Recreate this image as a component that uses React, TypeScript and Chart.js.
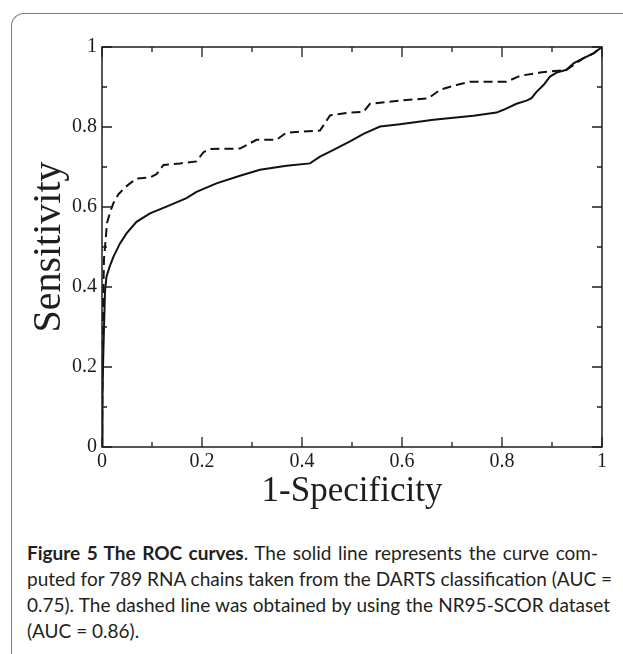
import React, { useEffect, useRef } from "react";
import { Chart, registerables } from "chart.js";

Chart.register(...registerables);

// 1-Specificity / Sensitivity for the solid curve (DARTS, AUC = 0.75)
const solidFpr = [0, 0.001, 0.002, 0.004, 0.006, 0.009, 0.015, 0.023, 0.036, 0.049, 0.069, 0.096, 0.129, 0.169, 0.189, 0.229, 0.276, 0.316, 0.369, 0.416, 0.436, 0.463, 0.496, 0.523, 0.556, 0.596, 0.663, 0.743, 0.789, 0.803, 0.829, 0.849, 0.859, 0.869, 0.883, 0.896, 0.909, 0.929, 0.943, 0.963, 0.983, 1];
const solidTpr = [0, 0.12, 0.2, 0.3, 0.39, 0.426, 0.45, 0.476, 0.509, 0.534, 0.563, 0.584, 0.601, 0.622, 0.638, 0.659, 0.678, 0.693, 0.703, 0.709, 0.726, 0.743, 0.764, 0.783, 0.801, 0.807, 0.818, 0.828, 0.836, 0.843, 0.858, 0.866, 0.872, 0.888, 0.905, 0.926, 0.936, 0.943, 0.959, 0.972, 0.984, 1];

// 1-Specificity / Sensitivity for the dashed curve (NR95-SCOR, AUC = 0.86)
const dashedFpr = [0, 0.001, 0.002, 0.004, 0.01, 0.017, 0.023, 0.033, 0.046, 0.056, 0.069, 0.096, 0.109, 0.123, 0.156, 0.189, 0.203, 0.216, 0.276, 0.309, 0.349, 0.369, 0.436, 0.456, 0.496, 0.523, 0.536, 0.596, 0.653, 0.676, 0.709, 0.736, 0.809, 0.836, 0.876, 0.929, 0.963, 0.983, 1];
const dashedTpr = [0, 0.2, 0.35, 0.47, 0.56, 0.59, 0.61, 0.632, 0.649, 0.659, 0.671, 0.674, 0.682, 0.705, 0.709, 0.714, 0.737, 0.745, 0.746, 0.768, 0.768, 0.786, 0.791, 0.829, 0.836, 0.838, 0.858, 0.866, 0.872, 0.893, 0.905, 0.913, 0.913, 0.928, 0.936, 0.943, 0.972, 0.984, 1];

const tickValues = [0, 0.1, 0.2, 0.3, 0.4, 0.5, 0.6, 0.7, 0.8, 0.9, 1];
const xTitle = "1-Specificity";
const yTitle = "Sensitivity";

const captionLines = [
  { bold: "Figure 5 The ROC curves", text: ". The solid line represents the curve com-", width: 571 },
  { bold: "", text: "puted for 789 RNA chains taken from the DARTS classification (AUC =", width: 585 },
  { bold: "", text: "0.75). The dashed line was obtained by using the NR95-SCOR dataset", width: 583 },
  { bold: "", text: "(AUC = 0.86).", width: 0 },
];

const AXIS_COLOR = "#1e1e1e";

const boxTicksPlugin = {
  id: "boxTicks",
  afterDraw(chart: any) {
    const { ctx, chartArea, scales } = chart;
    const { left, right, top, bottom } = chartArea;
    ctx.save();
    ctx.strokeStyle = AXIS_COLOR;
    ctx.lineWidth = 1.5;
    ctx.strokeRect(left, top, right - left, bottom - top);
    ctx.lineWidth = 1.3;
    tickValues.forEach((v, i) => {
      const len = i % 2 === 0 ? 10 : 5;
      const px = scales.x.getPixelForValue(v);
      const py = scales.y.getPixelForValue(v);
      ctx.beginPath();
      ctx.moveTo(px, bottom);
      ctx.lineTo(px, bottom - len);
      ctx.moveTo(px, top);
      ctx.lineTo(px, top + len);
      ctx.moveTo(left, py);
      ctx.lineTo(left + len, py);
      ctx.moveTo(right, py);
      ctx.lineTo(right - len, py);
      ctx.stroke();
    });
    ctx.restore();
  },
};

const fmt = (v: number) => Number(Number(v).toFixed(1)).toString();

export default function App() {
  const ref = useRef<HTMLCanvasElement | null>(null);

  useEffect(() => {
    document.body.style.margin = "0";
    if (!ref.current) return;
    const chart = new Chart(ref.current, {
      type: "scatter",
      data: {
        datasets: [
          {
            label: "DARTS",
            data: solidFpr.map((x, i) => ({ x, y: solidTpr[i] })),
            showLine: true,
            borderColor: "#111",
            borderWidth: 2,
            pointRadius: 0,
            tension: 0,
          },
          {
            label: "NR95-SCOR",
            data: dashedFpr.map((x, i) => ({ x, y: dashedTpr[i] })),
            showLine: true,
            borderColor: "#111",
            borderWidth: 2,
            borderDash: [9, 5],
            pointRadius: 0,
            tension: 0,
          },
        ],
      },
      options: {
        animation: false,
        responsive: false,
        devicePixelRatio: 1,
        layout: { padding: { top: 47, right: 21, left: 0, bottom: 0 } },
        plugins: { legend: { display: false }, tooltip: { enabled: false } },
        scales: {
          x: {
            type: "linear",
            min: 0,
            max: 1,
            grid: { display: false, drawTicks: false },
            border: { display: false },
            ticks: {
              stepSize: 0.2,
              padding: 3,
              color: AXIS_COLOR,
              font: { family: "Liberation Serif", size: 20 },
              callback: (v: any) => fmt(v),
            },
            title: {
              display: true,
              text: xTitle,
              color: AXIS_COLOR,
              font: { family: "Liberation Serif", size: 35 },
              padding: { top: 0, bottom: 17 },
            },
            afterFit: (s: any) => {
              s.height = 83;
            },
          },
          y: {
            type: "linear",
            min: 0,
            max: 1,
            grid: { display: false, drawTicks: false },
            border: { display: false },
            ticks: {
              stepSize: 0.2,
              padding: 5,
              color: AXIS_COLOR,
              font: { family: "Liberation Serif", size: 20 },
              callback: (v: any) => fmt(v),
            },
            title: {
              display: true,
              text: yTitle,
              color: AXIS_COLOR,
              font: { family: "Liberation Serif", size: 40 },
              padding: { top: 25, bottom: 0 },
            },
            afterFit: (s: any) => {
              s.width = 102;
            },
          },
        },
      },
      plugins: [boxTicksPlugin],
    });
    return () => chart.destroy();
  }, []);

  return (
    <div style={{ position: "relative", width: 623, height: 654, overflow: "hidden", background: "#fff" }}>
      <div
        style={{
          position: "absolute",
          left: 11,
          top: 13,
          width: 640,
          height: 680,
          borderLeft: "1.5px solid #7a7a7a",
          borderTop: "1.5px solid #7a7a7a",
          borderTopLeftRadius: 13,
          boxSizing: "border-box",
        }}
      />
      <canvas ref={ref} width={623} height={530} style={{ position: "absolute", left: 0, top: 0 }} />
      <div
        style={{
          position: "absolute",
          left: 27,
          top: 540,
          fontFamily: "Lato, 'Open Sans', sans-serif",
          fontSize: 19,
          lineHeight: "26px",
          color: "#231f20",
        }}
      >
        {captionLines.map((l, i) => (
          <div
            key={i}
            style={{
              width: l.width ? l.width : "auto",
              textAlign: l.width ? "justify" : "left",
              textAlignLast: l.width ? "justify" : "left",
              whiteSpace: "nowrap",
            }}
          >
            {l.bold ? <b>{l.bold}</b> : null}
            {l.text}
          </div>
        ))}
      </div>
    </div>
  );
}
